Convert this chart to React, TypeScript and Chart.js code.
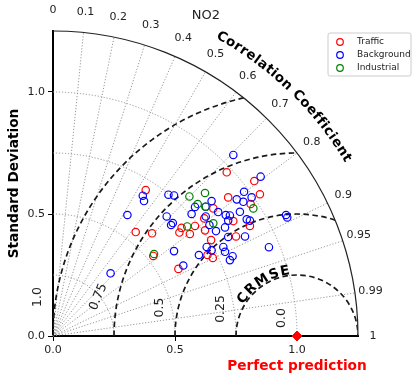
import React, { useEffect, useRef } from "react";
import { Chart, registerables } from "chart.js";

Chart.register(...registerables);

// ---------------- data ----------------
const title = "NO2";
const seriesNames = ["Traffic", "Background", "Industrial"];

// [standard deviation projected on x, projected on y]
const trafficPoints: number[][] = [
  [0.380, 0.598], [0.712, 0.671], [0.825, 0.635], [0.718, 0.568], [0.848, 0.581],
  [0.810, 0.541], [0.657, 0.523], [0.620, 0.482], [0.739, 0.471], [0.807, 0.451],
  [0.527, 0.443], [0.582, 0.451], [0.623, 0.433], [0.518, 0.424], [0.561, 0.418],
  [0.339, 0.426], [0.406, 0.421], [0.648, 0.393], [0.750, 0.408], [0.411, 0.328],
  [0.633, 0.332], [0.655, 0.320], [0.514, 0.275],
];
const backgroundPoints: number[][] = [
  [0.739, 0.742], [0.851, 0.653], [0.368, 0.575], [0.373, 0.553], [0.473, 0.579],
  [0.496, 0.576], [0.305, 0.496], [0.650, 0.553], [0.582, 0.529], [0.625, 0.530],
  [0.568, 0.500], [0.626, 0.490], [0.466, 0.490], [0.783, 0.591], [0.753, 0.560],
  [0.780, 0.550], [0.814, 0.568], [0.677, 0.508], [0.708, 0.496], [0.725, 0.494],
  [0.718, 0.473], [0.766, 0.509], [0.794, 0.478], [0.807, 0.473], [0.491, 0.463],
  [0.484, 0.455], [0.641, 0.455], [0.668, 0.430], [0.705, 0.445], [0.718, 0.406],
  [0.787, 0.408], [0.885, 0.364], [0.955, 0.496], [0.960, 0.486], [0.496, 0.348],
  [0.630, 0.365], [0.650, 0.351], [0.698, 0.365], [0.705, 0.345], [0.598, 0.332],
  [0.725, 0.311], [0.736, 0.327], [0.534, 0.289], [0.236, 0.257],
];
const industrialPoints: number[][] = [
  [0.559, 0.572], [0.623, 0.586], [0.821, 0.523], [0.593, 0.541], [0.627, 0.530],
  [0.550, 0.449], [0.657, 0.462], [0.414, 0.336],
];
const referencePoint: number[][] = [[1.0, 0.0]];

const axisTicks = [0, 0.5, 1.0];
const maxStd = 1.25;
const corrTicks = [0, 0.1, 0.2, 0.3, 0.4, 0.5, 0.6, 0.7, 0.8, 0.9, 0.95, 0.99, 1];
const corrGrid = [0.1, 0.2, 0.3, 0.4, 0.5, 0.6, 0.7, 0.8, 0.9, 0.95, 0.99];
const stdGrid = [0.25, 0.5, 0.75, 1.0];
const crmseLevels = [0.25, 0.5, 0.75, 1.0];
const crmseLabelText = ["0.0", "0.25", "0.5", "0.75", "1.0"];

// ---------------- layout (label anchors, in data units) ----------------
const crmseLabelAnchors = [
  { x: 0.936, y: 0.074, rot: -90 },
  { x: 0.689, y: 0.111, rot: -90 },
  { x: 0.439, y: 0.117, rot: -90 },
  { x: 0.186, y: 0.160, rot: -67 },
  { x: -0.061, y: 0.160, rot: -90 },
];

const FONT = "'DejaVu Sans', 'Liberation Sans', sans-serif";
const COLORS = ["#ff0000", "#0000ff", "#008000"];

function toPts(a: number[][]) {
  return a.map((p) => ({ x: p[0], y: p[1] }));
}

function drawArcText(
  ctx: CanvasRenderingContext2D,
  text: string,
  cx: number,
  cy: number,
  r: number,
  centerAngle: number,
  font: string,
  spacing: number
) {
  ctx.font = font;
  const chars = [...text];
  const ws = chars.map((ch) => ctx.measureText(ch).width);
  const total = ws.reduce((a, b) => a + b, 0) + spacing * (chars.length - 1);
  let s = -total / 2;
  chars.forEach((ch, i) => {
    const mid = s + ws[i] / 2;
    const ang = centerAngle - mid / r;
    const px = cx + r * Math.cos(ang);
    const py = cy - r * Math.sin(ang);
    ctx.save();
    ctx.translate(px, py);
    ctx.rotate(Math.PI / 2 - ang);
    ctx.textAlign = "center";
    ctx.textBaseline = "middle";
    ctx.fillText(ch, 0, 0);
    ctx.restore();
    s += ws[i] + spacing;
  });
}

const taylorPlugin = {
  id: "taylor",
  beforeDatasetsDraw(chart: any) {
    const { ctx } = chart;
    const xs = chart.scales.x;
    const ys = chart.scales.y;
    const ox = xs.getPixelForValue(0);
    const oy = ys.getPixelForValue(0);
    const k = xs.getPixelForValue(1) - ox;
    const R = maxStd * k;

    ctx.save();
    // std-dev arcs (dotted)
    ctx.strokeStyle = "#8c8c8c";
    ctx.lineWidth = 0.9;
    ctx.setLineDash([1.2, 1.8]);
    stdGrid.forEach((s) => {
      ctx.beginPath();
      ctx.arc(ox, oy, s * k, -Math.PI / 2, 0);
      ctx.stroke();
    });
    // correlation radial lines
    corrGrid.forEach((c) => {
      const a = Math.acos(c);
      ctx.beginPath();
      ctx.moveTo(ox, oy);
      ctx.lineTo(ox + R * Math.cos(a), oy - R * Math.sin(a));
      ctx.stroke();
    });
    ctx.restore();

    // CRMSE dashed arcs, clipped to the quadrant
    ctx.save();
    ctx.beginPath();
    ctx.moveTo(ox, oy);
    ctx.arc(ox, oy, R, 0, -Math.PI / 2, true);
    ctx.closePath();
    ctx.clip();
    const rx = xs.getPixelForValue(referencePoint[0][0]);
    ctx.strokeStyle = "#1a1a1a";
    ctx.lineWidth = 1.7;
    ctx.setLineDash([5.5, 3.5]);
    crmseLevels.forEach((l) => {
      ctx.beginPath();
      ctx.arc(rx, oy, l * k, Math.PI, 2 * Math.PI);
      ctx.stroke();
    });
    ctx.restore();

    // outer arc
    ctx.save();
    ctx.strokeStyle = "#222";
    ctx.lineWidth = 1.2;
    ctx.beginPath();
    ctx.arc(ox, oy, R, -Math.PI / 2, 0);
    ctx.stroke();
    ctx.restore();

    // correlation tick labels
    ctx.save();
    ctx.fillStyle = "#222";
    ctx.font = `11px ${FONT}`;
    ctx.textAlign = "center";
    ctx.textBaseline = "middle";
    corrTicks.forEach((c) => {
      const a = Math.acos(c);
      const rr = k * (1.311 + 0.025 * Math.sin(a));
      const label = c === 0 ? "0" : c === 1 ? "1" : String(c);
      ctx.fillText(label, ox + rr * Math.cos(a), oy - rr * Math.sin(a));
    });
    ctx.restore();

    // CRMSE contour labels
    ctx.save();
    ctx.fillStyle = "#222";
    ctx.font = `12.5px ${FONT}`;
    ctx.textAlign = "center";
    ctx.textBaseline = "middle";
    crmseLabelText.forEach((t, i) => {
      const p = crmseLabelAnchors[i];
      ctx.save();
      ctx.translate(xs.getPixelForValue(p.x), ys.getPixelForValue(p.y));
      ctx.rotate((p.rot * Math.PI) / 180);
      ctx.fillText(t, 0, 0);
      ctx.restore();
    });
    ctx.restore();

    // curved titles
    ctx.save();
    ctx.fillStyle = "#000";
    drawArcText(ctx, "Correlation Coefficient", ox, oy, 1.406 * k, (46 * Math.PI) / 180, `bold 13.5px ${FONT}`, 0.5);
    drawArcText(ctx, "CRMSE", rx, oy, 0.269 * k, (123 * Math.PI) / 180, `bold 13.5px ${FONT}`, 2);
    ctx.restore();

    // chart title
    ctx.save();
    ctx.fillStyle = "#222";
    ctx.font = `13px ${FONT}`;
    ctx.textAlign = "center";
    ctx.textBaseline = "middle";
    ctx.fillText(title, xs.getPixelForValue(0.627), oy - 1.311 * k);
    ctx.restore();

    // perfect prediction label
    ctx.save();
    ctx.fillStyle = "#ff0000";
    ctx.font = `bold 13.7px ${FONT}`;
    ctx.textAlign = "center";
    ctx.textBaseline = "middle";
    ctx.fillText("Perfect prediction", rx, oy + 30);
    ctx.restore();
  },
  afterDatasetsDraw(chart: any) {
    const { ctx } = chart;
    const area = chart.chartArea;
    // legend
    const bx = area.right - 30;
    const by = area.top + 2;
    const bw = 83;
    const bh = 43;
    ctx.save();
    ctx.fillStyle = "rgba(255,255,255,0.85)";
    ctx.strokeStyle = "#cccccc";
    ctx.lineWidth = 1;
    const r = 2;
    ctx.beginPath();
    ctx.moveTo(bx + r, by);
    ctx.lineTo(bx + bw - r, by);
    ctx.quadraticCurveTo(bx + bw, by, bx + bw, by + r);
    ctx.lineTo(bx + bw, by + bh - r);
    ctx.quadraticCurveTo(bx + bw, by + bh, bx + bw - r, by + bh);
    ctx.lineTo(bx + r, by + bh);
    ctx.quadraticCurveTo(bx, by + bh, bx, by + bh - r);
    ctx.lineTo(bx, by + r);
    ctx.quadraticCurveTo(bx, by, bx + r, by);
    ctx.closePath();
    ctx.fill();
    ctx.stroke();
    ctx.font = `9px ${FONT}`;
    ctx.textAlign = "left";
    ctx.textBaseline = "middle";
    seriesNames.forEach((n, i) => {
      const yy = by + 9 + i * 13;
      ctx.strokeStyle = COLORS[i];
      ctx.lineWidth = 1.2;
      ctx.beginPath();
      ctx.arc(bx + 12, yy, 3.3, 0, Math.PI * 2);
      ctx.stroke();
      ctx.fillStyle = "#222";
      ctx.fillText(n, bx + 29, yy);
    });
    ctx.restore();
  },
};

export default function App() {
  const ref = useRef<HTMLCanvasElement>(null);
  useEffect(() => {
    document.body.style.margin = "0";
    Chart.defaults.font.family = FONT;
    const pointDs = (label: string, pts: number[][], color: string, order: number) => ({
      label,
      data: toPts(pts),
      borderColor: color,
      backgroundColor: "rgba(0,0,0,0)",
      pointRadius: 3.7,
      pointBorderWidth: 1.2,
      pointStyle: "circle",
      order,
    });
    const chart = new Chart(ref.current as HTMLCanvasElement, {
      type: "scatter",
      data: {
        datasets: [
          pointDs(seriesNames[0], trafficPoints, COLORS[0], 3),
          pointDs(seriesNames[1], backgroundPoints, COLORS[1], 2),
          pointDs(seriesNames[2], industrialPoints, COLORS[2], 1),
          {
            label: "Perfect prediction",
            data: toPts(referencePoint),
            borderColor: "#ff0000",
            backgroundColor: "#ff0000",
            pointStyle: "rectRot",
            pointRadius: 5,
            pointBorderWidth: 1,
            clip: false,
            order: 0,
          } as any,
        ],
      },
      options: {
        animation: false,
        responsive: false,
        devicePixelRatio: 1,
        layout: { padding: { left: 0, top: 31, right: 55, bottom: 0 } },
        plugins: {
          legend: { display: false },
          tooltip: { enabled: false },
        },
        scales: {
          x: {
            type: "linear",
            min: 0,
            max: maxStd,
            afterFit: (s: any) => {
              s.height = 38;
            },
            afterBuildTicks: (s: any) => {
              s.ticks = axisTicks.map((v) => ({ value: v }));
            },
            grid: { drawOnChartArea: false, drawTicks: true, tickLength: 5, color: "#000", lineWidth: 1 },
            border: { display: true, color: "#000", width: 2 },
            ticks: {
              font: { family: FONT, size: 11 },
              color: "#222",
              padding: 3,
              maxRotation: 0,
              autoSkip: false,
              callback: (v: any) => Number(v).toFixed(1),
            },
          },
          y: {
            type: "linear",
            min: 0,
            max: maxStd,
            afterFit: (s: any) => {
              s.width = 53;
            },
            afterBuildTicks: (s: any) => {
              s.ticks = axisTicks.map((v) => ({ value: v }));
            },
            grid: { drawOnChartArea: false, drawTicks: true, tickLength: 5, color: "#000", lineWidth: 1 },
            border: { display: true, color: "#000", width: 2 },
            ticks: {
              font: { family: FONT, size: 11 },
              color: "#222",
              padding: 3,
              autoSkip: false,
              callback: (v: any) => Number(v).toFixed(1),
            },
            title: {
              display: true,
              text: "Standard Deviation",
              color: "#000",
              font: { family: FONT, size: 13.7, weight: "bold" },
              padding: { top: 6, bottom: 0 },
            },
          },
        },
      } as any,
      plugins: [taylorPlugin],
    });
    return () => chart.destroy();
  }, []);
  return (
    <div style={{ position: "fixed", left: 0, top: 0, width: 413, height: 374, background: "#fff" }}>
      <canvas ref={ref} width={413} height={374} style={{ display: "block", width: 413, height: 374 }} />
    </div>
  );
}
